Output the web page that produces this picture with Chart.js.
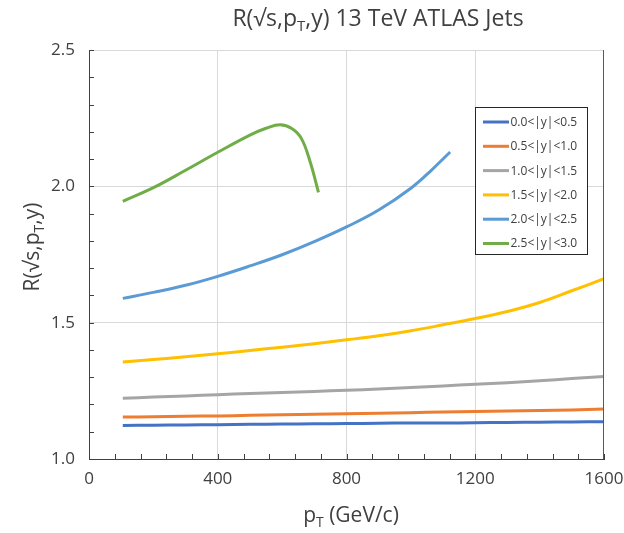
<!DOCTYPE html>
<html><head><meta charset="utf-8">
<script src="https://cdn.jsdelivr.net/npm/chart.js@4.4.1/dist/chart.umd.min.js"></script>
<style>html,body{margin:0;padding:0;background:#fff;}</style>
</head><body>
<canvas id="c" width="624" height="533"></canvas>
<script>
// ---- data ----
const seriesLabels = ['0.0<|y|<0.5','0.5<|y|<1.0','1.0<|y|<1.5','1.5<|y|<2.0','2.0<|y|<2.5','2.5<|y|<3.0'];
const pT      = [105, 200, 300, 400, 500, 600, 700, 800, 900, 1000, 1100, 1200, 1300, 1400, 1500, 1600];
const r_00_05 = [1.123,1.124,1.125,1.126,1.127,1.128,1.129,1.130,1.131,1.132,1.132,1.133,1.134,1.135,1.136,1.137];
const r_05_10 = [1.154,1.155,1.157,1.158,1.160,1.162,1.164,1.166,1.168,1.170,1.172,1.174,1.176,1.178,1.180,1.183];
const r_10_15 = [1.223,1.227,1.231,1.236,1.240,1.244,1.248,1.252,1.257,1.262,1.268,1.274,1.280,1.287,1.295,1.303];
const r_15_20 = [1.356,1.365,1.375,1.386,1.398,1.410,1.423,1.437,1.452,1.470,1.492,1.515,1.541,1.574,1.617,1.661];
const pT_20_25 = [105, 200, 300, 400, 500, 600, 700, 800, 900, 1000, 1061, 1122];
const r_20_25  = [1.589,1.611,1.637,1.670,1.708,1.749,1.797,1.851,1.913,1.993,2.056,2.126];
const pT_25_30 = [105, 200, 300, 400, 500, 550, 594, 630, 660, 687, 713];
const r_25_30  = [1.945,1.995,2.059,2.125,2.188,2.213,2.226,2.212,2.175,2.090,1.978];
const xMajorStep = 400, xMinorStep = 80;
const yMajorStep = 0.5, yMinorStep = 0.1;
const colors = ['#4472C4','#ED7D31','#A5A5A5','#FFC000','#5B9BD5','#70AD47'];

const toPts = (xs, ys) => xs.map((x, i) => ({x: x, y: ys[i]}));
const seriesData = [
  toPts(pT, r_00_05), toPts(pT, r_05_10), toPts(pT, r_10_15),
  toPts(pT, r_15_20), toPts(pT_20_25, r_20_25), toPts(pT_25_30, r_25_30)
];

const FONT = '"Open Sans", "Liberation Sans", sans-serif';
const isMult = (v, s) => Math.abs(v / s - Math.round(v / s)) < 1e-6;

function drawRich(ctx, parts, size, cx, cy) {
  const subSize = Math.round(size * 0.65);
  let w = 0;
  parts.forEach(p => { ctx.font = (p.sub ? subSize : size) + 'px ' + FONT; p.w = ctx.measureText(p.t).width; w += p.w; });
  let x = cx - w / 2;
  ctx.textAlign = 'left'; ctx.textBaseline = 'alphabetic';
  parts.forEach(p => {
    ctx.font = (p.sub ? subSize : size) + 'px ' + FONT;
    ctx.fillText(p.t, x, cy + (p.sub ? size * 0.22 : 0));
    x += p.w;
  });
}

const decor = {
  id: 'decor',
  afterDraw(chart) {
    const ctx = chart.ctx, a = chart.chartArea;
    const xs = chart.scales.x, ys = chart.scales.y;
    ctx.save();
    // right edge line
    ctx.strokeStyle = '#595959'; ctx.lineWidth = 1;
    ctx.beginPath();
    const rx = Math.round(xs.getPixelForValue(xs.max)) - 0.5;
    ctx.moveTo(rx, a.top); ctx.lineTo(rx, a.bottom); ctx.stroke();
    // inward tick marks
    ctx.strokeStyle = '#404040'; ctx.lineWidth = 1;
    ctx.beginPath();
    ys.ticks.forEach(t => { const p = Math.round(ys.getPixelForValue(t.value)) + 0.5; ctx.moveTo(a.left, p); ctx.lineTo(a.left + 5, p); });
    xs.ticks.forEach(t => { const p = Math.round(xs.getPixelForValue(t.value)) + 0.5; ctx.moveTo(p, a.bottom); ctx.lineTo(p, a.bottom - 5); });
    ctx.stroke();
    // titles
    ctx.fillStyle = '#404040';
    drawRich(ctx, [{t:'R(√s,p'},{t:'T',sub:true},{t:',y) 13 TeV ATLAS Jets'}], 23, 378, 26);
    drawRich(ctx, [{t:'p'},{t:'T',sub:true},{t:' (GeV/c)'}], 21, 351, 522);
    ctx.save();
    ctx.translate(39, 247); ctx.rotate(-Math.PI / 2);
    drawRich(ctx, [{t:'R(√s,p'},{t:'T',sub:true},{t:',y)'}], 21, 0, 0);
    ctx.restore();
    // legend
    const bx = 475.5, by = 107.5, bw = 112, bh = 147;
    ctx.fillStyle = '#fff'; ctx.fillRect(bx, by, bw, bh);
    ctx.strokeStyle = '#262626'; ctx.lineWidth = 1; ctx.strokeRect(bx, by, bw, bh);
    chart.data.datasets.forEach((d, i) => {
      const y = 122 + i * 24.3;
      ctx.strokeStyle = d.borderColor; ctx.lineWidth = 3;
      ctx.beginPath(); ctx.moveTo(483, y); ctx.lineTo(509, y); ctx.stroke();
      ctx.fillStyle = '#404040'; ctx.font = '12px ' + FONT;
      ctx.textAlign = 'left'; ctx.textBaseline = 'middle';
      ctx.fillText(d.label, 510.5, y + 0.5);
    });
    ctx.restore();
  }
};

new Chart(document.getElementById('c'), {
  type: 'line',
  data: {
    datasets: seriesData.map((pts, i) => ({
      label: seriesLabels[i], data: pts, borderColor: colors[i], backgroundColor: colors[i],
      borderWidth: 3, pointRadius: 0, tension: 0.4, fill: false
    }))
  },
  options: {
    responsive: false, animation: false, devicePixelRatio: 1,
    layout: { padding: { top: 50, right: 0, left: 0, bottom: 0 } },
    plugins: { legend: { display: false }, title: { display: false }, tooltip: { enabled: false } },
    scales: {
      x: {
        type: 'linear', min: 0, max: 1600,
        afterFit(s) { s.height = 74; s.paddingRight = 20; s.paddingLeft = 0; },
        ticks: { stepSize: xMinorStep, autoSkip: false, maxRotation: 0, padding: 10, color: '#404040',
          font: { family: FONT, size: 17 },
          callback: v => isMult(v, xMajorStep) ? String(Math.round(v)) : '' },
        grid: { drawTicks: false, lineWidth: 1,
          color: c => (c.tick && isMult(c.tick.value, xMajorStep) && c.tick.value > 0 && c.tick.value < 1600) ? '#d9d9d9' : 'rgba(0,0,0,0)' },
        border: { color: '#404040', width: 1 }
      },
      y: {
        type: 'linear', min: 1.0, max: 2.5,
        afterFit(s) { s.width = 89; },
        ticks: { stepSize: yMinorStep, autoSkip: false, padding: 14, color: '#404040',
          font: { family: FONT, size: 17 },
          callback: v => isMult(v, yMajorStep) ? Number(v).toFixed(1) : '' },
        grid: { drawTicks: false, lineWidth: 1,
          color: c => (c.tick && isMult(c.tick.value, yMajorStep) && c.tick.value > 1.0001) ? '#d9d9d9' : 'rgba(0,0,0,0)' },
        border: { color: '#404040', width: 1 }
      }
    }
  },
  plugins: [decor]
});
</script>
</body></html>
